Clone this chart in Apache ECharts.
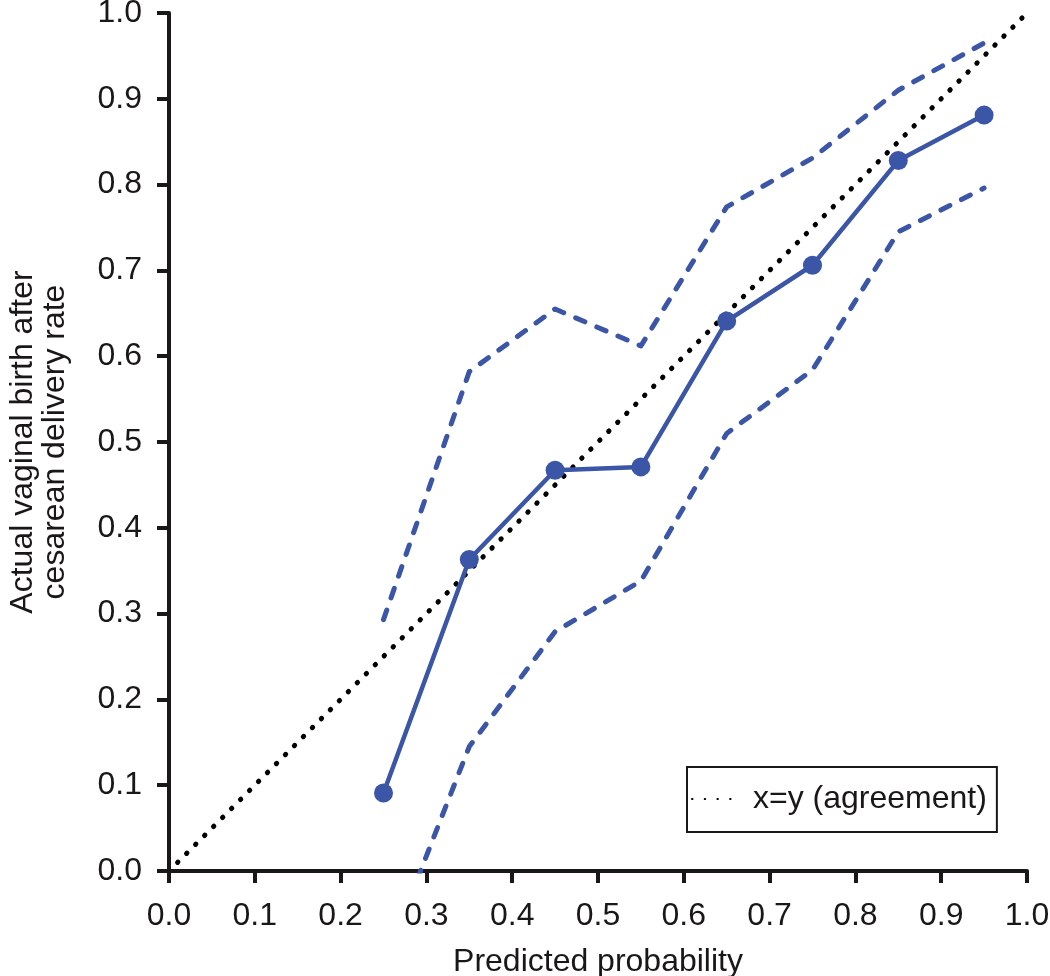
<!DOCTYPE html>
<html>
<head>
<meta charset="utf-8">
<script src="https://cdn.jsdelivr.net/npm/echarts@6/dist/echarts.min.js"></script>
<style>
html,body{margin:0;padding:0;background:#fff;}
#chart{width:1050px;height:976px;}
</style>
</head>
<body>
<div id="chart"></div>
<script>
// Data
var predicted = [0.25, 0.35, 0.45, 0.55, 0.65, 0.75, 0.85, 0.95];
var actualRate = [0.091, 0.363, 0.467, 0.471, 0.641, 0.706, 0.828, 0.881];
var upperCI = [0.293, 0.582, 0.655, 0.612, 0.774, 0.831, 0.910, 0.965];
var lowerCI = [-0.11, 0.145, 0.279, 0.338, 0.510, 0.584, 0.745, 0.796];
var agreementX = [0.01, 1.0];
var agreementY = [0.01, 1.0];
var legendLabel = 'x=y (agreement)';
var xTitle = 'Predicted probability';
var yTitle = 'Actual vaginal birth after\ncesarean delivery rate';

function pairs(xs, ys) { return xs.map(function (x, i) { return [x, ys[i]]; }); }

var FONT = "'Liberation Sans', Arial, sans-serif";
var BLUE = '#3b55a7';
var INK = '#1a1718';

var axisCommon = {
  type: 'value', min: 0, max: 1, interval: 0.1,
  axisLine: { show: true, lineStyle: { color: INK, width: 4 } },
  axisTick: { show: true, inside: false, length: 12, lineStyle: { color: INK, width: 4 } },
  splitLine: { show: false },
  axisLabel: { color: INK, fontSize: 32, fontFamily: FONT, formatter: function (v) { return v.toFixed(1); } },
  nameTextStyle: { color: INK, fontSize: 32, fontFamily: FONT, lineHeight: 32 }
};

var chart = echarts.init(document.getElementById('chart'), null, { renderer: 'canvas' });
chart.setOption({
  animation: false,
  backgroundColor: '#fff',
  grid: { left: 169, right: 23, top: 13, bottom: 105, containLabel: false, outerBoundsMode: 'none' },
  xAxis: Object.assign({}, axisCommon, {
    name: xTitle, nameLocation: 'middle', nameGap: 75,
    axisLabel: Object.assign({}, axisCommon.axisLabel, { margin: 29 })
  }),
  yAxis: Object.assign({}, axisCommon, {
    name: yTitle, nameLocation: 'middle', nameGap: 98, nameRotate: 90,
    axisLabel: Object.assign({}, axisCommon.axisLabel, { margin: 27 })
  }),
  legend: {
    data: [legendLabel],
    left: 687, top: 767,
    orient: 'horizontal',
    backgroundColor: '#fff',
    borderColor: INK, borderWidth: 2, borderRadius: 0,
    padding: [16, 10, 17, 4],
    itemWidth: 50, itemHeight: 30,
    itemStyle: { opacity: 0 },
    textStyle: { color: INK, fontSize: 32, fontFamily: FONT, padding: [0, 0, 0, 6] }
  },
  series: [
    {
      name: legendLabel, type: 'line', data: pairs(agreementX, agreementY),
      showSymbol: false, symbol: 'none', z: 1,
      lineStyle: { color: '#000', width: 5, type: [0.5, 12.2], cap: 'round' },
      itemStyle: { color: '#000' }
    },
    {
      name: 'Upper CI', type: 'line', data: pairs(predicted, upperCI),
      symbol: 'none', clip: true, z: 2,
      lineStyle: { color: BLUE, width: 5, type: [10, 13], cap: 'round', join: 'round' }
    },
    {
      name: 'Lower CI', type: 'line', data: pairs(predicted, lowerCI),
      symbol: 'none', clip: true, z: 2,
      lineStyle: { color: BLUE, width: 5, type: [10, 13], cap: 'round', join: 'round' }
    },
    {
      name: 'Observed', type: 'line', data: pairs(predicted, actualRate),
      symbol: 'circle', symbolSize: 19, showSymbol: true, z: 3,
      lineStyle: { color: BLUE, width: 4.5 },
      itemStyle: { color: BLUE }
    }
  ]
});
</script>
</body>
</html>
